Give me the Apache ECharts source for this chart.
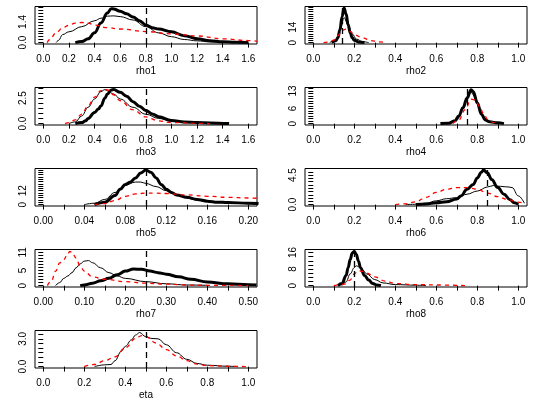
<!DOCTYPE html>
<html lang="en">
<head>
    <meta charset="UTF-8">
    <title>Posterior densities</title>
    <script type="text/javascript" src="https://cdn.jsdelivr.net/npm/echarts@6.0.0/dist/echarts.min.js"></script>
    <style>
        body {
            margin: 0;
        }
    </style>
</head>
<body>
<div id="chart" style="width:540px;height:405px;"></div>
<script>
    // panel names, in reading order
    var names = ['rho1', 'rho2', 'rho3', 'rho4', 'rho5', 'rho6', 'rho7', 'rho8', 'eta'];

    // density curves, [x, density]
    var rho1Thick = [[0.25, 0], [0.3, 0.07], [0.35, 0.26], [0.4, 0.66], [0.45, 1.32], [0.5, 2.0], [0.53, 2.3], [0.55, 2.28], [0.6, 2.12], [0.65, 1.95], [0.7, 1.74], [0.75, 1.48], [0.8, 1.2], [0.85, 1.01], [0.9, 0.92], [1.0, 0.73], [1.1, 0.47], [1.2, 0.26], [1.3, 0.13], [1.4, 0.05], [1.5, 0.02], [1.6, 0.01]];
    var rho1Thin = [[0.1, 0], [0.12, 0.16], [0.15, 0.54], [0.2, 0.73], [0.3, 1.08], [0.4, 1.48], [0.45, 1.65], [0.5, 1.79], [0.55, 1.81], [0.6, 1.76], [0.7, 1.53], [0.8, 1.08], [0.9, 0.66], [1.0, 0.4], [1.1, 0.21], [1.2, 0.12], [1.3, 0.05], [1.4, 0.01]];
    var rho1Red = [[0.03, 0], [0.05, 0.21], [0.1, 0.66], [0.15, 0.99], [0.2, 1.18], [0.25, 1.32], [0.3, 1.36], [0.35, 1.32], [0.4, 1.18], [0.5, 1.01], [0.6, 0.92], [0.8, 0.75], [1.0, 0.59], [1.2, 0.45], [1.4, 0.26], [1.6, 0.14], [1.67, 0.09]];

    var rho2Thick = [[0.09, 0], [0.11, 1.6], [0.12, 4.4], [0.13, 11.7], [0.14, 23.3], [0.15, 31.5], [0.16, 26.1], [0.17, 16.1], [0.18, 8.8], [0.19, 4.4], [0.2, 2.2], [0.22, 0.6], [0.25, 0]];
    var rho2Thin = [[0.08, 0], [0.11, 2.2], [0.13, 11], [0.15, 22.7], [0.17, 15.8], [0.19, 7.9], [0.21, 3.2], [0.24, 0.9], [0.27, 0]];
    var rho2Red = [[0.05, 0], [0.08, 0.6], [0.1, 2.2], [0.12, 6.3], [0.14, 11], [0.16, 12.3], [0.18, 10.1], [0.2, 7.2], [0.24, 4.4], [0.28, 1.9], [0.32, 0.6], [0.36, 0]];

    var rho3Thick = [[0.25, 0], [0.3, 0.1], [0.33, 0.27], [0.35, 0.51], [0.4, 1.09], [0.43, 1.43], [0.45, 1.73], [0.48, 2.48], [0.5, 2.89], [0.53, 3.3], [0.55, 3.33], [0.6, 3.06], [0.65, 2.69], [0.7, 2.14], [0.75, 1.7], [0.8, 1.29], [0.85, 0.95], [0.9, 0.68], [1.0, 0.31], [1.1, 0.17], [1.2, 0.1], [1.3, 0.07], [1.45, 0]];
    var rho3Thin = [[0.2, 0], [0.25, 0.17], [0.3, 0.75], [0.35, 1.6], [0.4, 2.41], [0.45, 3.13], [0.48, 3.33], [0.5, 3.23], [0.55, 2.89], [0.6, 2.41], [0.7, 1.6], [0.8, 0.92], [0.9, 0.51], [1.0, 0.24], [1.1, 0.14], [1.2, 0.07], [1.3, 0]];
    var rho3Red = [[0.17, 0], [0.2, 0.1], [0.25, 0.37], [0.3, 0.92], [0.35, 1.73], [0.4, 2.58], [0.45, 3.23], [0.47, 3.4], [0.5, 3.3], [0.55, 2.82], [0.6, 2.24], [0.7, 1.36], [0.8, 0.65], [0.9, 0.27], [1.0, 0.1], [1.2, 0.03], [1.3, 0]];

    var rho4Thick = [[0.62, 0], [0.66, 0.1], [0.69, 1.1], [0.71, 3], [0.73, 6.3], [0.75, 10.2], [0.77, 13.5], [0.78, 12.8], [0.8, 8.3], [0.82, 3.7], [0.84, 1.4], [0.86, 0.7], [0.9, 0.3], [0.93, 0]];
    var rho4Thin = [[0.66, 0], [0.7, 1.4], [0.73, 5.8], [0.76, 11.7], [0.77, 12.4], [0.79, 10.4], [0.81, 6.2], [0.83, 2.5], [0.86, 0.7], [0.9, 0]];
    var rho4Red = [[0.68, 0], [0.71, 1.4], [0.74, 5.5], [0.77, 9.7], [0.79, 9.4], [0.81, 6.9], [0.83, 4.1], [0.85, 1.7], [0.88, 0.4], [0.9, 0]];

    var rho5Thick = [[0.05, 0], [0.06, 2.1], [0.07, 7.8], [0.075, 13.2], [0.08, 17.4], [0.085, 19.5], [0.09, 23.1], [0.095, 27.3], [0.1, 30], [0.105, 27.9], [0.11, 23.1], [0.115, 17.4], [0.12, 13.2], [0.125, 10.5], [0.13, 8.4], [0.14, 6.3], [0.15, 4.5], [0.16, 3], [0.17, 2.1], [0.18, 1.8], [0.2, 1.2], [0.21, 0.9]];
    var rho5Thin = [[0.04, 0], [0.05, 1.2], [0.06, 4.5], [0.07, 10.5], [0.08, 16.8], [0.09, 19.5], [0.095, 19.5], [0.1, 18.3], [0.11, 15.6], [0.12, 12], [0.13, 8.4], [0.14, 5.7], [0.15, 3.9], [0.16, 2.7], [0.18, 1.5], [0.2, 0.9], [0.21, 0.6]];
    var rho5Red = [[0.05, 0], [0.06, 0.9], [0.07, 3.6], [0.08, 7.2], [0.09, 9.3], [0.1, 9.9], [0.11, 9.9], [0.12, 9.6], [0.14, 8.4], [0.16, 7.2], [0.18, 6.3], [0.2, 5.7], [0.21, 5.4]];

    var rho6Thick = [[0.5, 0], [0.55, 0.11], [0.6, 0.27], [0.65, 0.42], [0.7, 0.85], [0.72, 1.33], [0.75, 2.33], [0.78, 3.07], [0.8, 4.08], [0.82, 4.93], [0.83, 5.3], [0.85, 4.82], [0.87, 3.82], [0.9, 2.6], [0.93, 1.59], [0.96, 0.74], [0.98, 0.27], [1.0, 0.05]];
    var rho6Thin = [[0.45, 0], [0.5, 0.05], [0.55, 0.21], [0.6, 0.58], [0.65, 0.9], [0.7, 1.06], [0.75, 1.59], [0.8, 2.07], [0.85, 2.7], [0.88, 2.92], [0.9, 2.81], [0.95, 2.7], [0.97, 2.6], [1.0, 1.33], [1.03, 0.21]];
    var rho6Red = [[0.4, 0], [0.45, 0.11], [0.5, 0.42], [0.55, 1.11], [0.6, 1.86], [0.65, 2.33], [0.7, 2.6], [0.75, 2.6], [0.8, 2.33], [0.85, 1.75], [0.9, 1.22], [0.95, 0.74], [1.0, 0.37], [1.03, 0.21]];

    var rho7Thick = [[0.09, 0], [0.1, 0.2], [0.12, 0.8], [0.14, 1.6], [0.16, 2.4], [0.18, 3.6], [0.2, 4.8], [0.22, 5.5], [0.24, 5.4], [0.26, 4.8], [0.28, 4.3], [0.3, 3.8], [0.33, 2.9], [0.36, 2.1], [0.4, 1.2], [0.45, 0.6], [0.5, 0.3], [0.52, 0.2]];
    var rho7Thin = [[0.03, 0], [0.04, 1], [0.05, 2.4], [0.06, 3.2], [0.07, 4.3], [0.08, 5.9], [0.09, 7.2], [0.1, 8.1], [0.11, 8.3], [0.12, 7.6], [0.14, 5.9], [0.16, 4.3], [0.18, 3.2], [0.2, 2.4], [0.25, 1.3], [0.3, 0.6], [0.35, 0.2], [0.4, 0.1]];
    var rho7Red = [[0.01, 0], [0.02, 1.6], [0.03, 4.8], [0.04, 7.5], [0.05, 8.6], [0.06, 10.7], [0.065, 11.3], [0.07, 11], [0.08, 9.1], [0.09, 6.4], [0.1, 4.8], [0.12, 2.9], [0.15, 2.1], [0.2, 1.3], [0.25, 0.8], [0.3, 0.5], [0.35, 0.2], [0.4, 0.1], [0.5, 0]];

    var rho8Thick = [[0.12, 0], [0.14, 1], [0.16, 4.9], [0.17, 8.7], [0.18, 12.6], [0.19, 15.8], [0.2, 16.5], [0.21, 15], [0.22, 11.9], [0.23, 8.7], [0.25, 4.9], [0.27, 2.7], [0.29, 1], [0.31, 0.3], [0.33, 0]];
    var rho8Thin = [[0.14, 0], [0.16, 1.8], [0.18, 5.7], [0.2, 8.7], [0.21, 9.6], [0.22, 9.2], [0.24, 7.6], [0.26, 5.7], [0.3, 2.9], [0.34, 1.3], [0.4, 0.5], [0.5, 0.2], [0.55, 0]];
    var rho8Red = [[0.1, 0], [0.15, 0.7], [0.18, 2.7], [0.2, 5.7], [0.22, 7.2], [0.24, 6.9], [0.26, 6], [0.3, 4.2], [0.35, 2.2], [0.4, 1], [0.5, 0.5], [0.6, 0.3], [0.74, 0]];

    var etaThin = [[0.25, 0], [0.3, 0.19], [0.33, 0.23], [0.35, 0.64], [0.38, 1.65], [0.4, 2.18], [0.43, 2.89], [0.45, 3.41], [0.47, 3.68], [0.5, 3.23], [0.53, 3.04], [0.56, 3.0], [0.6, 2.36], [0.65, 1.5], [0.7, 0.79], [0.75, 0.34], [0.8, 0.15], [0.9, 0.04], [0.95, 0]];
    var etaRed = [[0.2, 0], [0.25, 0.23], [0.3, 0.64], [0.35, 1.05], [0.4, 2.03], [0.45, 3.04], [0.48, 3.34], [0.5, 3.23], [0.55, 2.55], [0.6, 1.84], [0.65, 1.16], [0.7, 0.64], [0.75, 0.26], [0.8, 0.11], [0.9, 0.04], [1.0, 0]];

    var thickCurves = [rho1Thick, rho2Thick, rho3Thick, rho4Thick, rho5Thick, rho6Thick, rho7Thick, rho8Thick, null];
    var thinCurves = [rho1Thin, rho2Thin, rho3Thin, rho4Thin, rho5Thin, rho6Thin, rho7Thin, rho8Thin, etaThin];
    var redCurves = [rho1Red, rho2Red, rho3Red, rho4Red, rho5Red, rho6Red, rho7Red, rho8Red, etaRed];

    // true values (vertical dashed lines)
    var trueValues = [0.8, 0.135, 0.8, 0.75, 0.10, 0.85, 0.25, 0.2, 0.5];

    // axis ticks and labels
    var yPeak = [2.35, 31.5, 3.4, 13.8, 30, 5.3, 11.5, 16.8, 3.75];
    var yTickStep = [0.2, 2, 0.5, 1, 2, 0.5, 1, 2, 0.5];
    var yLabels = [[0, 1.4], [0, 14], [0, 2.5], [0, 6, 13], [0, 12], [0, 4.5], [0, 5, 11], [0, 8, 16], [0, 3]];
    var yDigits = [1, 0, 1, 0, 0, 1, 0, 0, 1];
    var xLast = [1.6, 1, 1.6, 1, 0.2, 1, 0.5, 1, 1];
    var xTickStep = [0.2, 0.1, 0.2, 0.1, 0.02, 0.1, 0.05, 0.1, 0.1];
    var xLabelStep = [0.2, 0.2, 0.2, 0.2, 0.04, 0.2, 0.1, 0.2, 0.2];
    var xDigits = [1, 1, 1, 1, 2, 1, 2, 1, 1];

    var FONT = 'Liberation Sans';

    function steps(last, step) {
        var out = [];
        var n = Math.round(last / step);
        for (var i = 0; i <= n; i++) out.push(+(i * step).toFixed(4));
        return out;
    }

    var grids = [], xAxes = [], yAxes = [], series = [];
    for (var i = 0; i < names.length; i++) {
        var col = i % 2, row = Math.floor(i / 2);
        grids.push({
            left: 35 + 270 * col, top: 6.5 + 81 * row, width: 222, height: 37.5,
            show: true, borderColor: '#000', borderWidth: 1, backgroundColor: 'transparent',
            outerBoundsMode: 'none'
        });
        var span = xLast[i];
        (function (d) {
            xAxes.push({
                type: 'value', gridIndex: i, position: 'bottom', offset: 2,
                min: -8.3 / 205 * span, max: span + 8.7 / 205 * span,
                splitLine: {show: false}, axisLine: {show: false},
                axisTick: {show: true, length: 5, lineStyle: {color: '#000'}, customValues: steps(span, xTickStep[i])},
                axisLabel: {
                    color: '#000', fontFamily: FONT, fontSize: 10, margin: 8,
                    customValues: steps(span, xLabelStep[i]),
                    formatter: function (v) { return v.toFixed(d); }
                },
                name: names[i], nameLocation: 'middle', nameGap: 20,
                nameTextStyle: {color: '#000', fontFamily: FONT, fontSize: 10}
            });
        })(xDigits[i]);
        var M = yPeak[i];
        (function (d) {
            yAxes.push({
                type: 'value', gridIndex: i,
                min: -0.04 * M, max: 1.04 * M,
                splitLine: {show: false}, axisLine: {show: false},
                axisTick: {show: true, length: 5, lineStyle: {color: '#000'}, customValues: steps(M, yTickStep[i])},
                axisLabel: {
                    color: '#000', fontFamily: FONT, fontSize: 10, rotate: 90, margin: 7,
                    customValues: yLabels[i],
                    formatter: function (v) { return v.toFixed(d); }
                }
            });
        })(yDigits[i]);

        var base = {
            type: 'line', xAxisIndex: i, yAxisIndex: i, showSymbol: false,
            smooth: 0.4, smoothMonotone: 'x', silent: true, z: 2
        };
        series.push(Object.assign({}, base, {
            data: thinCurves[i], lineStyle: {color: '#000', width: 1},
            markLine: {
                silent: true, symbol: 'none', label: {show: false},
                lineStyle: {color: '#000', width: 1.3, type: [6, 4]},
                data: [{xAxis: trueValues[i]}]
            }
        }));
        if (thickCurves[i]) {
            series.push(Object.assign({}, base, {data: thickCurves[i], lineStyle: {color: '#000', width: 3}}));
        }
        series.push(Object.assign({}, base, {data: redCurves[i], lineStyle: {color: '#ff0000', width: 1.3, type: [4, 4]}}));
    }

    var chart = echarts.init(document.getElementById('chart'), null, {renderer: 'canvas'});
    chart.setOption({
        animation: false,
        backgroundColor: '#fff',
        grid: grids,
        xAxis: xAxes,
        yAxis: yAxes,
        series: series
    });
</script>
</body>
</html>
